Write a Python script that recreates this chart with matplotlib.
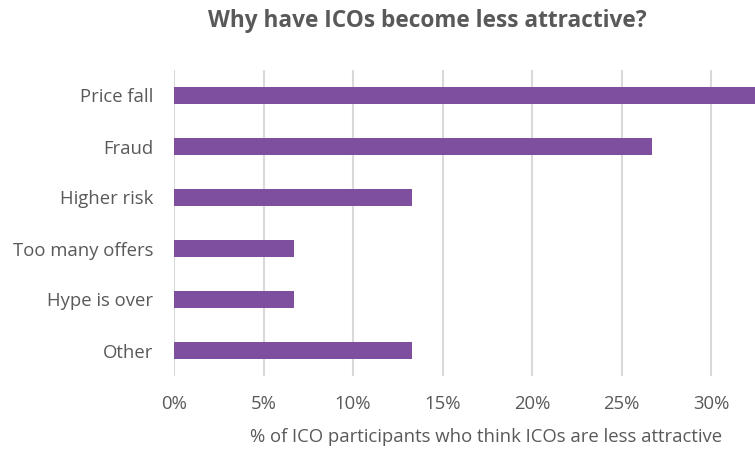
import matplotlib
matplotlib.use("Agg")
import matplotlib.pyplot as plt
from matplotlib.ticker import FuncFormatter

categories = ["Price fall", "Fraud", "Higher risk", "Too many offers", "Hype is over", "Other"]
values = [33.3, 26.7, 13.3, 6.7, 6.7, 13.3]
xticks = [0, 5, 10, 15, 20, 25, 30]

plt.rcParams['font.family'] = ['Open Sans', 'DejaVu Sans']
txt = '#595959'

fig = plt.figure(figsize=(7.55, 4.49), dpi=100)
W, H = 755, 449
ax = fig.add_axes([174 / W, 1 - 376 / H, (755 - 174) / W, (376 - 70) / H])

y = list(range(len(categories)))
ax.barh(y, values, height=0.34, color='#7F4F9F', zorder=3, clip_on=True)
ax.set_ylim(len(categories) - 0.5, -0.5)
ax.set_xlim(0, 32.45)
ax.set_yticks(y)
ax.set_yticklabels(categories, fontsize=13.3, color=txt)
ax.set_xticks(xticks)
ax.xaxis.set_major_formatter(FuncFormatter(lambda v, p: f"{v:.0f}%"))
ax.tick_params(axis='x', labelsize=13.3, colors=txt, length=0, pad=14)
ax.tick_params(axis='y', length=0, pad=15)
ax.grid(axis='x', color='#D9D9D9', linewidth=1.5, zorder=0)
for s in ax.spines.values():
    s.set_visible(False)

fig.text(427 / W, 1 - 21 / H, "Why have ICOs become less attractive?", ha='center', va='center',
         fontsize=16.3, fontweight='bold', color=txt)
fig.text(486 / W, 1 - 437 / H, "% of ICO participants who think ICOs are less attractive",
         ha='center', va='center', fontsize=13.3, color=txt)

fig.savefig("out.png", dpi=100)
